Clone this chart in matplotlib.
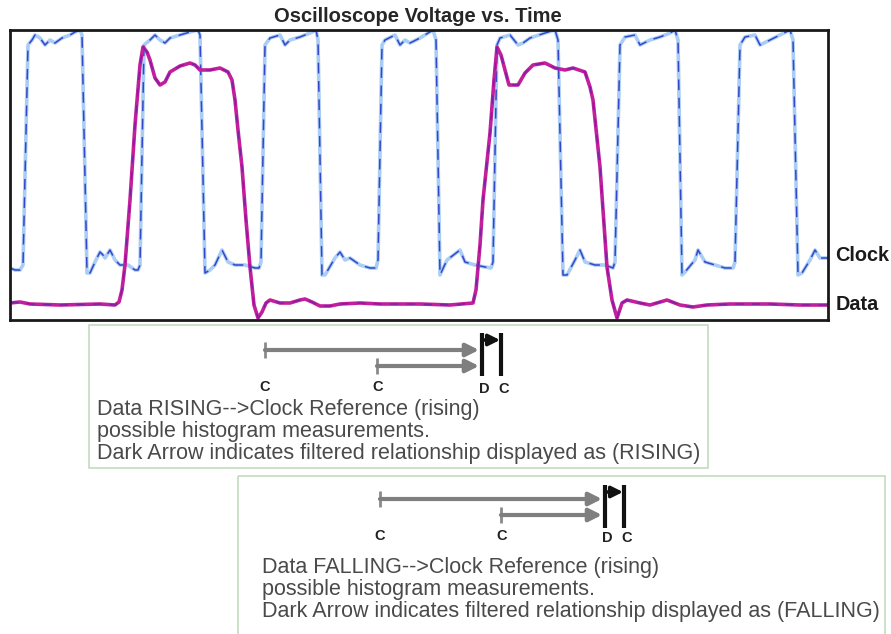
import matplotlib
matplotlib.use("Agg")
import matplotlib.pyplot as plt
from matplotlib.patches import Rectangle

# ---------------- data ----------------
# time in arbitrary units, voltage in arbitrary units (0 = bottom of screen)
clock_t = [0, 5, 10, 13, 18, 22, 25, 30, 35, 40, 45, 52, 60, 65, 70, 72, 77, 80, 85, 90, 93, 95,
           100, 105, 110, 118, 125, 128, 130, 134, 140, 145, 150, 155, 160, 170, 180, 188, 190, 195,
           200, 205, 212, 218, 225, 235, 245, 249, 251, 255, 260, 270, 275, 280, 290, 300, 306, 308,
           312, 315, 325, 330, 335, 340, 350, 360, 366, 368, 372, 375, 385, 390, 395, 400, 410, 418,
           423, 426, 430, 437, 450, 455, 465, 475, 481, 483, 487, 490, 500, 508, 513, 520, 535, 545,
           548, 553, 557, 565, 570, 575, 585, 595, 603, 605, 610, 615, 625, 630, 640, 650, 660, 665,
           668, 672, 675, 685, 688, 695, 705, 715, 723, 725, 730, 735, 745, 750, 760, 770, 780, 783,
           788, 792, 800, 805, 810, 818]
clock_v = [52, 50, 50, 55, 275, 280, 285, 282, 275, 280, 277, 282, 285, 288, 290, 285, 47, 47, 58, 68,
           65, 62, 70, 60, 55, 55, 50, 50, 55, 275, 280, 285, 280, 277, 282, 285, 288, 290, 285, 47,
           50, 55, 70, 58, 55, 55, 52, 52, 58, 275, 282, 285, 275, 280, 283, 287, 290, 280, 45, 45,
           62, 68, 60, 62, 55, 52, 52, 60, 275, 280, 285, 275, 280, 277, 282, 287, 290, 280, 45, 60,
           70, 58, 55, 53, 52, 58, 275, 282, 285, 275, 277, 282, 287, 290, 280, 45, 45, 60, 70, 58,
           55, 55, 52, 58, 275, 283, 285, 275, 280, 283, 287, 290, 280, 45, 48, 60, 70, 58, 55, 52,
           52, 58, 275, 283, 285, 275, 280, 285, 290, 280, 45, 47, 60, 70, 62, 62]

data_t = [0, 10, 20, 50, 90, 105, 109, 112, 115, 120, 125, 130, 133, 137, 140, 145, 150, 155, 160,
          170, 180, 185, 190, 200, 210, 218, 222, 225, 228, 232, 236, 240, 244, 248, 252, 256, 260,
          270, 280, 290, 295, 302, 310, 320, 330, 350, 370, 410, 440, 463, 466, 470, 473, 480, 484,
          487, 491, 495, 499, 508, 515, 523, 535, 545, 555, 563, 575, 580, 583, 590, 597, 602, 607,
          612, 617, 630, 640, 657, 670, 683, 697, 720, 760, 790, 818]
data_v = [17, 18, 16, 15, 16, 15, 18, 30, 55, 120, 195, 255, 273, 268, 260, 242, 235, 238, 248,
          254, 257, 255, 250, 250, 252, 248, 240, 220, 190, 153, 100, 53, 15, 2, 8, 17, 20,
          17, 17, 20, 21, 18, 14, 14, 16, 17, 16, 16, 15, 17, 30, 75, 120, 187, 240,
          273, 265, 250, 235, 235, 247, 255, 257, 252, 250, 252, 248, 233, 220, 153, 53, 20, 2,
          17, 20, 17, 15, 20, 15, 13, 15, 16, 16, 15, 15]

# ---------------- figure ----------------
W, H = 891, 634
fig = plt.figure(figsize=(W / 100, H / 100), dpi=100)
fig.patch.set_facecolor("white")

# overlay axes in pixel coordinates for the annotation diagram
ov = fig.add_axes([0, 0, 1, 1], zorder=0)
ov.set_xlim(0, W)
ov.set_ylim(H, 0)
ov.axis("off")

# main scope axes
L, T, R, B = 10, 30, 828, 320
ax = fig.add_axes([L / W, 1 - B / H, (R - L) / W, (B - T) / H], zorder=2)
ax.set_xlim(0, 818)
ax.set_ylim(0, 290)
ax.set_xticks([])
ax.set_yticks([])
for s in ax.spines.values():
    s.set_linewidth(2)
    s.set_color("#1a1a1a")

ax.plot(clock_t, clock_v, color="#a9cdf5", lw=2.6, solid_joinstyle="round")
ax.plot(clock_t, clock_v, color="#3347c9", lw=1.1, dashes=(7, 5))
ax.plot(data_t, data_v, color="#c21f9c", lw=2.6, solid_joinstyle="round")
ax.plot(data_t, data_v, color="#7a1fa8", lw=1.0, dashes=(6, 6))

fig.text(418 / W, 1 - 16 / H, "Oscilloscope Voltage vs. Time", ha="center", va="center",
         fontsize=14.5, fontweight="bold", color="#262626", family="Liberation Sans")
fig.text(835 / W, 1 - 256 / H, "Clock", ha="left", va="center",
         fontsize=14.3, fontweight="bold", color="#1a1a1a", family="Liberation Sans")
fig.text(836 / W, 1 - 305 / H, "Data", ha="left", va="center",
         fontsize=14.3, fontweight="bold", color="#1a1a1a", family="Liberation Sans")

# ---------------- annotation boxes ----------------
box_color = "#c4dcc0"
gray = "#7f7f7f"


def diagram(x0, y0, xs, ys, xd, xc, ya, label_y, box, lines, tx, ty):
    bx, by, bw, bh = box
    ov.add_patch(Rectangle((bx, by), bw, bh, fill=False, ec=box_color, lw=1.2))
    # long and short gray arrows with start ticks
    for (sx, sy) in [(x0, y0), (xs, ys)]:
        ov.plot([sx, sx], [sy - 8, sy + 8], color="#8a8a8a", lw=2, solid_capstyle="butt")
        ov.annotate("", xy=(xd - 3, sy), xytext=(sx, sy),
                    arrowprops=dict(arrowstyle="-|>", color=gray, lw=3,
                                    mutation_scale=19, shrinkA=0, shrinkB=0))
    # D and C vertical bars
    for vx in (xd, xc):
        ov.plot([vx, vx], [ya - 7, ya + 36], color="#111111", lw=3, solid_capstyle="butt")
    ov.annotate("", xy=(xc - 1, ya), xytext=(xd, ya),
                arrowprops=dict(arrowstyle="-|>", color="#111111", lw=2.5,
                                mutation_scale=17, shrinkA=0, shrinkB=0))
    kw = dict(ha="center", va="center", fontsize=10.5, fontweight="bold",
              color="#222222", family="Liberation Sans")
    ov.text(x0, label_y, "C", **kw)
    ov.text(xs + 1, label_y, "C", **kw)
    ov.text(xd + 2, label_y + 2, "D", **kw)
    ov.text(xc + 3, label_y + 2, "C", **kw)
    for i, ln in enumerate(lines):
        ov.text(tx, ty + i * 21.5, ln, ha="left", va="center", fontsize=15.5,
                color="#4a4a4a", family="Liberation Sans")


diagram(265, 350, 377, 366, 482, 501, 340, 387,
        (89, 325, 619, 143),
        ["Data RISING-->Clock Reference (rising)",
         "possible histogram measurements.",
         "Dark Arrow indicates filtered relationship displayed as (RISING)"],
        97, 410)

diagram(380, 499, 501, 515, 605, 624, 492, 536,
        (238, 476, 647, 170),
        ["Data FALLING-->Clock Reference (rising)",
         "possible histogram measurements.",
         "Dark Arrow indicates filtered relationship displayed as (FALLING)"],
        262, 568)

fig.savefig("out.png", dpi=100, facecolor="white")
